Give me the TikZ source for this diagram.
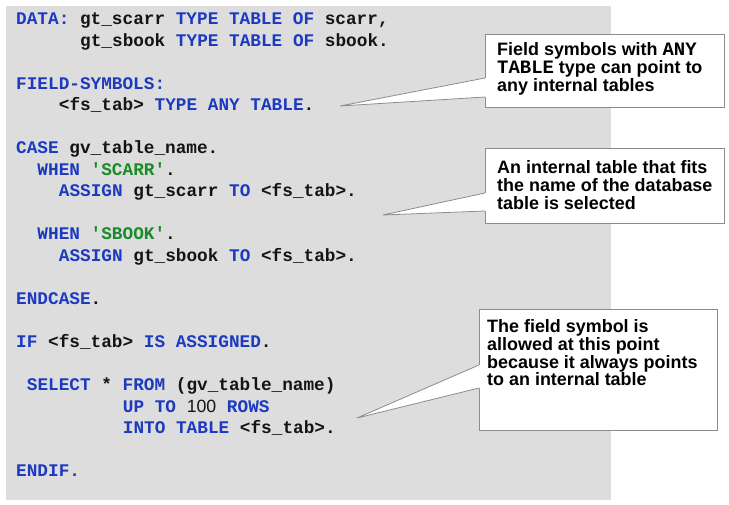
\documentclass[tikz,border=0pt]{standalone}
\usepackage{fontspec}
\setmainfont{Liberation Sans}
\newfontfamily\codefont{Liberation Mono}[Ligatures=TeXOff]
\definecolor{kwblue}{RGB}{28,58,192}
\definecolor{strgreen}{RGB}{24,140,40}
\definecolor{idblack}{RGB}{20,20,20}
\definecolor{panelgray}{RGB}{221,221,221}
\definecolor{calloutline}{RGB}{140,140,140}
\newcommand\abapkw[1]{\textcolor{kwblue}{#1}}
\newcommand\abapstr[1]{\textcolor{strgreen}{#1}}
\newcommand\abapnum[1]{{\rmfamily\mdseries #1}}
\newcommand\cmono[1]{{\codefont\fontsize{19}{18}\selectfont #1}}
\tikzset{
  codeline/.style={anchor=base west, inner sep=0pt, text=idblack,
    font=\codefont\bfseries\fontsize{17.8}{21.5}\selectfont},
  calloutbox/.style={draw=calloutline, line width=0.8bp, fill=white, inner sep=0pt, anchor=north west},
  callouttext/.style={anchor=north west, inner sep=0pt, align=left, text=black,
    font=\bfseries\fontsize{18}{18}\selectfont},
  wedgeline/.style={draw=calloutline, line width=0.8bp, line join=miter}
}
\begin{document}
\begin{tikzpicture}[x=1bp,y=-1bp]
\useasboundingbox (0,0) rectangle (729,505);
\fill[panelgray] (6,6) rectangle (611,500);
% code lines: x = 16 + col*10.67, baseline = 25 + 21.5*i
\node[codeline] (l0) at (16,25) {\abapkw{DATA:} gt\_scarr \abapkw{TYPE TABLE OF} scarr,};
\node[codeline] (l1) at (80,46.5) {gt\_sbook \abapkw{TYPE TABLE OF} sbook.};
\node[codeline] (l3) at (16,89.5) {\abapkw{FIELD-SYMBOLS:}};
\node[codeline] (l4) at (58.7,111) {<fs\_tab> \abapkw{TYPE ANY TABLE}.};
\node[codeline] (l6) at (16,154) {\abapkw{CASE} gv\_table\_name.};
\node[codeline] (l7) at (37.3,175.5) {\abapkw{WHEN} \abapstr{'SCARR'}.};
\node[codeline] (l8) at (58.7,197) {\abapkw{ASSIGN} gt\_scarr \abapkw{TO} <fs\_tab>.};
\node[codeline] (l10) at (37.3,240) {\abapkw{WHEN} \abapstr{'SBOOK'}.};
\node[codeline] (l11) at (58.7,261.5) {\abapkw{ASSIGN} gt\_sbook \abapkw{TO} <fs\_tab>.};
\node[codeline] (l13) at (16,304.5) {\abapkw{ENDCASE}.};
\node[codeline] (l15) at (16,347.5) {\abapkw{IF} <fs\_tab> \abapkw{IS ASSIGNED}.};
\node[codeline] (l17) at (26.7,390.5) {\abapkw{SELECT} * \abapkw{FROM} (gv\_table\_name)};
\node[codeline] (l18) at (122.7,412) {\abapkw{UP TO} \abapnum{100} \abapkw{ROWS}};
\node[codeline] (l19) at (122.7,433.5) {\abapkw{INTO TABLE} <fs\_tab>.};
\node[codeline] (l21) at (16,476.5) {\abapkw{ENDIF.}};
% callout 1
\node[calloutbox, minimum width=239bp, minimum height=73bp] (c1) at (485,34) {};
\coordinate (t1) at (340,106);
\coordinate (b1a) at (485,78);
\coordinate (b1b) at (485,97);
\fill[white] (t1) -- (b1a) -- ([xshift=1.5bp]b1a) -- ([xshift=1.5bp]b1b) -- (b1b) -- cycle;
\draw[wedgeline] (b1a) -- (t1) -- (b1b);
\node[callouttext] (c1t) at (497,42.5) {Field symbols with \cmono{ANY}\\\cmono{TABLE} type can point to\\any internal tables};
% callout 2
\node[calloutbox, minimum width=239bp, minimum height=75bp] (c2) at (485,148) {};
\coordinate (t2) at (383,215);
\coordinate (b2a) at (485,193);
\coordinate (b2b) at (485,211);
\fill[white] (t2) -- (b2a) -- ([xshift=1.5bp]b2a) -- ([xshift=1.5bp]b2b) -- (b2b) -- cycle;
\draw[wedgeline] (b2a) -- (t2) -- (b2b);
\node[callouttext] (c2t) at (497,160) {An internal table that fits\\the name of the database\\table is selected};
% callout 3
\node[calloutbox, minimum width=238bp, minimum height=121bp] (c3) at (479,309) {};
\coordinate (t3) at (357,418);
\coordinate (b3a) at (479,365);
\coordinate (b3b) at (479,388);
\fill[white] (t3) -- (b3a) -- ([xshift=1.5bp]b3a) -- ([xshift=1.5bp]b3b) -- (b3b) -- cycle;
\draw[wedgeline] (b3a) -- (t3) -- (b3b);
\node[callouttext] (c3t) at (487,319) {The field symbol is\\allowed at this point\\because it always points\\to an internal table};
\end{tikzpicture}
\end{document}
